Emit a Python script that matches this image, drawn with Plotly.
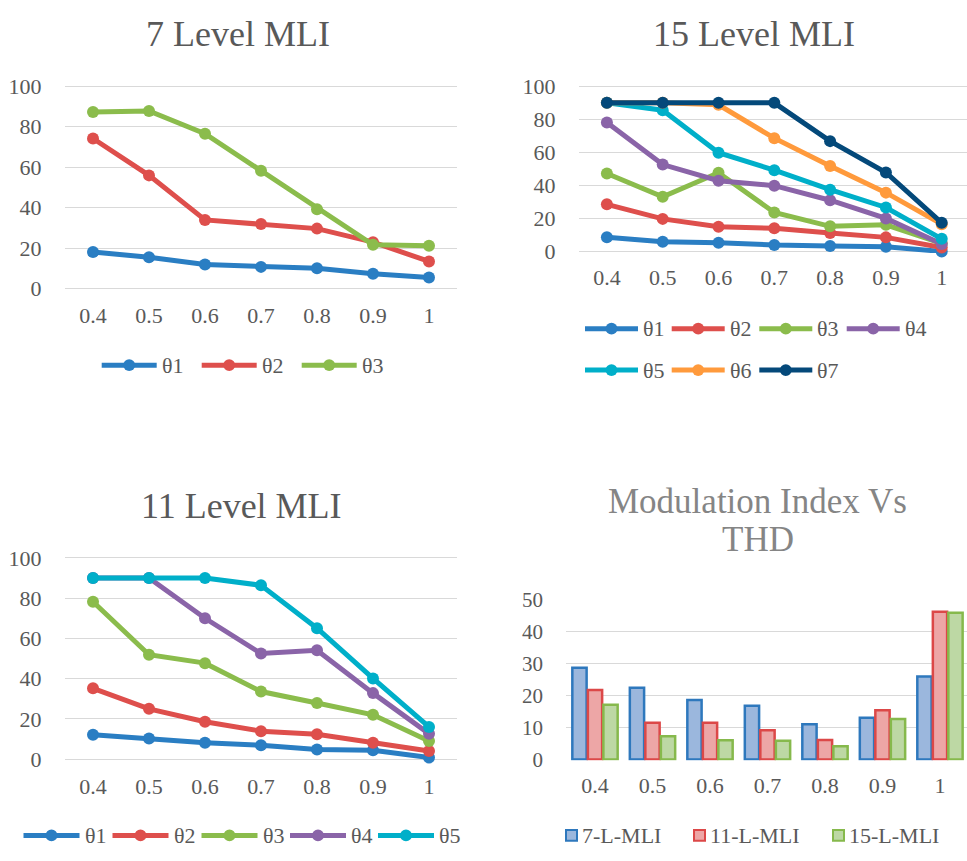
import plotly.graph_objects as go

# ---- data -------------------------------------------------------------
mod_index = ["0.4", "0.5", "0.6", "0.7", "0.8", "0.9", "1"]

# 7 level MLI switching angles (degrees)
l7_theta1 = [18.1, 15.6, 12.0, 10.8, 10.1, 7.4, 5.5]
l7_theta2 = [74.2, 56.0, 34.0, 32.0, 29.7, 23.0, 13.5]
l7_theta3 = [87.3, 87.8, 76.6, 58.3, 39.3, 21.7, 21.2]

# 15 level MLI switching angles (degrees)
l15_theta1 = [8.6, 5.9, 5.3, 3.9, 3.3, 2.8, 0.0]
l15_theta2 = [28.5, 19.7, 15.0, 14.0, 11.2, 8.5, 2.4]
l15_theta3 = [47.2, 33.1, 47.6, 23.6, 15.2, 16.1, 4.9]
l15_theta4 = [78.1, 52.6, 42.8, 39.8, 31.0, 20.0, 4.5]
l15_theta5 = [90.0, 85.5, 59.8, 49.2, 37.4, 26.6, 7.6]
l15_theta6 = [90.0, 90.0, 88.8, 68.6, 51.8, 35.6, 16.5]
l15_theta7 = [90.0, 90.0, 90.0, 90.0, 66.8, 47.8, 17.3]

# 11 level MLI switching angles (degrees)
l11_theta1 = [12.1, 10.2, 8.1, 6.9, 4.8, 4.4, 0.8]
l11_theta2 = [35.2, 25.0, 18.6, 13.9, 12.4, 8.1, 4.0]
l11_theta3 = [78.2, 51.9, 47.7, 33.6, 27.9, 22.0, 9.0]
l11_theta4 = [90.0, 90.0, 70.0, 52.5, 54.1, 32.8, 12.6]
l11_theta5 = [90.0, 90.0, 90.0, 86.4, 65.1, 40.1, 16.0]

# THD (%) versus modulation index
thd_7 = [28.7, 22.4, 18.6, 16.8, 11.0, 13.0, 25.9]
thd_11 = [21.7, 11.5, 11.5, 9.1, 6.1, 15.4, 46.2]
thd_15 = [17.1, 7.2, 6.0, 5.8, 4.1, 12.6, 45.9]

theta_names = ["θ1", "θ2", "θ3", "θ4", "θ5", "θ6", "θ7"]
bar_names = ["7-L-MLI", "11-L-MLI", "15-L-MLI"]

# ---- styling ----------------------------------------------------------
W, H = 967, 861
FONT = "'Liberation Serif', 'Times New Roman', 'DejaVu Serif', serif"
TXT = "#595959"
GRID = "#D9D9D9"
LINE_COLORS = ["#2A7EC3", "#DE4F4C", "#8BBC4C", "#8A64A8",
               "#00AFC9", "#FF9A3C", "#04497A"]
BAR_FILL = ["#9BB7DD", "#EDA6A6", "#BDD8A4"]
BAR_EDGE = ["#2E78BD", "#DC4848", "#86B94C"]


def fx(x):
    return x / W


def fy(y):
    return 1 - y / H


fig = go.Figure()


def add_lines(series, xa, ya):
    for i, vals in enumerate(series):
        fig.add_trace(go.Scatter(
            x=mod_index, y=vals, name=theta_names[i], mode="lines+markers",
            line=dict(color=LINE_COLORS[i], width=5),
            marker=dict(color=LINE_COLORS[i], size=12),
            xaxis=xa, yaxis=ya, showlegend=False, cliponaxis=False))


add_lines([l7_theta1, l7_theta2, l7_theta3], "x", "y")
add_lines([l15_theta1, l15_theta2, l15_theta3, l15_theta4,
           l15_theta5, l15_theta6, l15_theta7], "x2", "y2")
add_lines([l11_theta1, l11_theta2, l11_theta3, l11_theta4, l11_theta5],
          "x3", "y3")

for i, vals in enumerate([thd_7, thd_11, thd_15]):
    fig.add_trace(go.Bar(
        x=mod_index, y=vals, name=bar_names[i],
        marker=dict(color=BAR_FILL[i], line=dict(color=BAR_EDGE[i], width=2.5)),
        xaxis="x4", yaxis="y4", showlegend=False))

tickfont = dict(family=FONT, size=22, color=TXT)


def xaxis(dom, rng):
    return dict(domain=dom, type="category", range=rng, showgrid=False,
                zeroline=False, showline=False, ticks="outside", ticklen=5,
                tickcolor="rgba(0,0,0,0)", tickfont=tickfont, fixedrange=True)


def yaxis(dom, rng, dtick, anchor):
    return dict(domain=dom, range=rng, dtick=dtick, tick0=0, showgrid=True,
                gridcolor=GRID, gridwidth=1.4, zeroline=False, showline=False,
                ticks="outside", ticklen=18, tickcolor="rgba(0,0,0,0)",
                tickfont=tickfont, anchor=anchor, fixedrange=True)


fig.update_layout(
    width=W, height=H, margin=dict(l=0, r=0, t=0, b=0),
    paper_bgcolor="white", plot_bgcolor="white",
    barmode="group", bargap=0.19, bargroupgap=0.08,
    xaxis=dict(xaxis([fx(65), fx(457)], [-0.5, 6.5]), anchor="y"),
    yaxis=yaxis([fy(287.1), fy(75.2)], [-1, 101], 20, "x"),
    xaxis2=dict(xaxis([fx(579), 1.0], [-0.5, 6.453]), anchor="y2"),
    yaxis2=yaxis([fy(248.4), fy(75.6)], [-1, 101], 20, "x2"),
    xaxis3=dict(xaxis([fx(65), fx(457)], [-0.5, 6.5]), anchor="y3"),
    yaxis3=yaxis([fy(769.8), fy(559.2)], [-1, 101], 20, "x3"),
    xaxis4=dict(xaxis([fx(566.25), 1.0], [-0.5, 6.47]), anchor="y4"),
    yaxis4=yaxis([fy(769), fy(603)], [-0.3, 50.3], 10, "x4"),
)
fig.layout.yaxis4.tickfont = dict(family=FONT, size=21, color=TXT)

# ---- titles -----------------------------------------------------------
annotations = []


def title(text, x, y, color=TXT, size=36):
    annotations.append(dict(text=text, x=fx(x), y=fy(y), xref="paper",
                            yref="paper", xanchor="center", yanchor="middle",
                            showarrow=False,
                            font=dict(family=FONT, size=size, color=color)))


title("7 Level MLI", 237.5, 24)
title("15 Level MLI", 753.5, 24)
title("11 Level MLI", 241, 508)
title("Modulation Index Vs", 757.5, 503, color="#858585", size=35)
title("THD", 757.5, 542, color="#858585", size=35)

# ---- legends (drawn as keys + labels) ---------------------------------
shapes = []


def line_key(i, x0, y, length=55):
    c = LINE_COLORS[i]
    shapes.append(dict(type="line", xref="paper", yref="paper",
                       x0=fx(x0), x1=fx(x0 + length), y0=fy(y), y1=fy(y),
                       line=dict(color=c, width=5)))
    cx = x0 + length / 2
    shapes.append(dict(type="circle", xref="paper", yref="paper",
                       x0=fx(cx - 6), x1=fx(cx + 6), y0=fy(y + 6), y1=fy(y - 6),
                       fillcolor=c, line=dict(width=0)))
    annotations.append(dict(text=theta_names[i], x=fx(x0 + length + 3), y=fy(y),
                            xref="paper", yref="paper", xanchor="left",
                            yanchor="middle", showarrow=False,
                            font=dict(family=FONT, size=22, color=TXT)))


# 7 level legend
for i, x0 in enumerate([101.7, 201.7, 301.7]):
    line_key(i, x0, 363.5)

# 15 level legend (two rows)
for i, x0 in enumerate([585, 671.7, 759.3, 846.7]):
    line_key(i, x0, 326, length=53)
for j, x0 in enumerate([585, 671.7, 759.3]):
    line_key(4 + j, x0, 368.5, length=53)

# 11 level legend
for i, x0 in enumerate([23.5, 112.5, 201.5, 290, 378]):
    line_key(i, x0, 846, length=56)

# THD legend
for i, x0 in enumerate([566, 694, 833]):
    shapes.append(dict(type="rect", xref="paper", yref="paper",
                       x0=fx(x0), x1=fx(x0 + 11), y0=fy(851.5), y1=fy(840.5),
                       fillcolor=BAR_FILL[i], line=dict(color=BAR_EDGE[i], width=2)))
    annotations.append(dict(text=bar_names[i], x=fx(x0 + 14), y=fy(846),
                            xref="paper", yref="paper", xanchor="left",
                            yanchor="middle", showarrow=False,
                            font=dict(family=FONT, size=22, color=TXT)))

fig.update_layout(annotations=annotations, shapes=shapes)

fig.write_html("out.html")
